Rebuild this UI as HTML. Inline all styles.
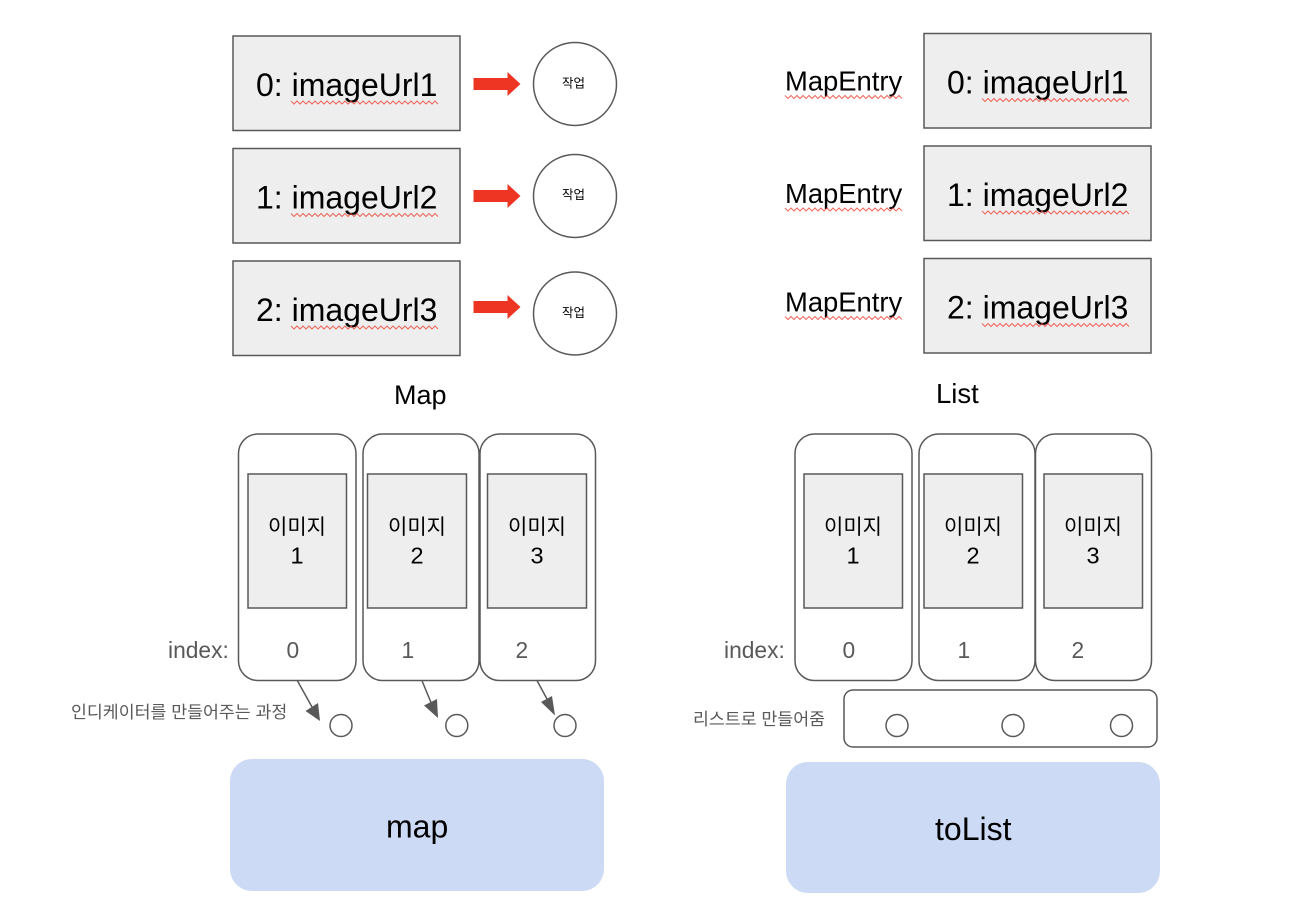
<!DOCTYPE html>
<html><head><meta charset="utf-8">
<style>
html,body{margin:0;padding:0;background:#fff}
svg{display:block}
text{font-family:"Liberation Sans","Noto Sans CJK KR",sans-serif;fill:#000}
.b{fill:#eee;stroke:#595959;stroke-width:1.5}
.c{fill:#fff;stroke:#595959;stroke-width:1.5}
.r{fill:none;stroke:#595959;stroke-width:1.5}
.t{font-size:32px}
.m{font-size:27.4px}
.k{font-size:21px;text-anchor:middle}
.n{font-size:23.5px;text-anchor:middle}
.g{font-size:22.8px;fill:#595959}
.s{font-size:17.3px;fill:#595959}
.w{font-size:12.5px;text-anchor:middle}
.q{fill:none;stroke:#ea4335;stroke-width:1;opacity:.8}
.a{fill:#ee3524}
.l{stroke:#595959;stroke-width:1.5;fill:none}
.h{fill:#595959}
.d{fill:#ccdaf5}
</style></head><body>
<svg width="1292" height="912" viewBox="0 0 1292 912" xmlns="http://www.w3.org/2000/svg">
<defs>
<path id="sq" class="q" d="M0 0l3 3 3-3 3 3 3-3 3 3 3-3 3 3 3-3 3 3 3-3 3 3 3-3 3 3 3-3 3 3 3-3 3 3 3-3 3 3 3-3 3 3 3-3 3 3 3-3 3 3 3-3 3 3 3-3 3 3 3-3 3 3 3-3 3 3 3-3 3 3 3-3 3 3 3-3 3 3 3-3 3 3 3-3 3 3 3-3 3 3 3-3 3 3 3-3 3 3"/>
<path id="sq2" class="q" d="M0 0l3 3 3-3 3 3 3-3 3 3 3-3 3 3 3-3 3 3 3-3 3 3 3-3 3 3 3-3 3 3 3-3 3 3 3-3 3 3 3-3 3 3 3-3 3 3 3-3 3 3 3-3 3 3 3-3 3 3 3-3 3 3 3-3 3 3 3-3 3 3 3-3 3 3 3-3 3 3"/>
<path id="ar" class="a" d="M0 -6H34V-12L47 0 34 12V6H0Z"/>
</defs>

<!-- top left -->
<rect class="b" x="233" y="36" width="227" height="94.500"/>
<rect class="b" x="233" y="148.500" width="227" height="94.500"/>
<rect class="b" x="233" y="261" width="227" height="94.500"/>
<text class="t" x="256" y="96">0: imageUrl1</text>
<text class="t" x="256" y="208.500">1: imageUrl2</text>
<text class="t" x="256" y="321">2: imageUrl3</text>
<use href="#sq" x="291" y="101"/>
<use href="#sq" x="291" y="213.500"/>
<use href="#sq" x="291" y="326"/>
<use href="#ar" x="473.500" y="84"/>
<use href="#ar" x="473.500" y="196"/>
<use href="#ar" x="473.500" y="307"/>
<circle class="c" cx="575" cy="84" r="41.500"/>
<circle class="c" cx="575" cy="196" r="41.500"/>
<circle class="c" cx="575" cy="313.500" r="41.500"/>
<text class="w" x="573.500" y="87.500">작업</text>
<text class="w" x="573.500" y="199">작업</text>
<text class="w" x="573.500" y="317">작업</text>

<!-- top right -->
<rect class="b" x="924" y="33.500" width="227" height="94.500"/>
<rect class="b" x="924" y="146" width="227" height="94.500"/>
<rect class="b" x="924" y="258.500" width="227" height="94.500"/>
<text class="t" x="947" y="93.500">0: imageUrl1</text>
<text class="t" x="947" y="206">1: imageUrl2</text>
<text class="t" x="947" y="318.500">2: imageUrl3</text>
<use href="#sq" x="982" y="98.500"/>
<use href="#sq" x="982" y="211"/>
<use href="#sq" x="982" y="323.500"/>
<text class="m" x="785" y="90.500">MapEntry</text>
<text class="m" x="785" y="203">MapEntry</text>
<text class="m" x="785" y="311.500">MapEntry</text>
<use href="#sq2" x="785" y="95.500"/>
<use href="#sq2" x="785" y="208"/>
<use href="#sq2" x="785" y="316.500"/>

<text x="394" y="404" style="font-size:27px">Map</text>
<text x="936" y="403" style="font-size:27.500px">List</text>

<!-- lower left -->
<rect class="r" x="238.500" y="434" width="117.500" height="246.500" rx="19.500"/>
<rect class="r" x="363" y="434" width="116" height="246.500" rx="19.500"/>
<rect class="r" x="480" y="434" width="115.500" height="246.500" rx="19.500"/>
<rect class="b" x="248" y="474" width="98.500" height="134"/>
<rect class="b" x="367.500" y="474" width="99" height="134"/>
<rect class="b" x="487.500" y="474" width="99" height="134"/>
<text class="k" x="297" y="534">이미지</text><text class="n" x="297" y="563.500">1</text>
<text class="k" x="417" y="534">이미지</text><text class="n" x="417" y="563.500">2</text>
<text class="k" x="537" y="534">이미지</text><text class="n" x="537" y="563.500">3</text>
<text class="g" x="168" y="658">index:</text>
<text class="g" x="286.500" y="658">0</text>
<text class="g" x="401.500" y="658">1</text>
<text class="g" x="515.500" y="658">2</text>
<text class="s" x="71" y="718">인디케이터를 만들어주는 과정</text>
<line class="l" x1="297" y1="680" x2="312" y2="707"/>
<path class="h" d="M320 721L305.500 711 318 703Z"/>
<line class="l" x1="421.700" y1="680" x2="431" y2="702.500"/>
<path class="h" d="M438 718L424 705.500 437 699Z"/>
<line class="l" x1="536.700" y1="680" x2="547" y2="699"/>
<path class="h" d="M555 715.500L541 702 552 696Z"/>
<circle class="c" cx="341" cy="725.500" r="11"/>
<circle class="c" cx="456.800" cy="725.500" r="11"/>
<circle class="c" cx="565" cy="725.500" r="11"/>
<rect class="d" x="230" y="759" width="374" height="132" rx="22"/>
<text class="t" x="386" y="837.500">map</text>

<!-- lower right -->
<rect class="r" x="795" y="434" width="117" height="246.500" rx="19.500"/>
<rect class="r" x="919" y="434" width="116" height="246.500" rx="19.500"/>
<rect class="r" x="1035.500" y="434" width="116" height="246.500" rx="19.500"/>
<rect class="b" x="804" y="474" width="98.500" height="134"/>
<rect class="b" x="924" y="474" width="98.500" height="134"/>
<rect class="b" x="1044" y="474" width="98.500" height="134"/>
<text class="k" x="853" y="534">이미지</text><text class="n" x="853" y="563.500">1</text>
<text class="k" x="973" y="534">이미지</text><text class="n" x="973" y="563.500">2</text>
<text class="k" x="1093" y="534">이미지</text><text class="n" x="1093" y="563.500">3</text>
<text class="g" x="724" y="658">index:</text>
<text class="g" x="842.500" y="658">0</text>
<text class="g" x="957.500" y="658">1</text>
<text class="g" x="1071.500" y="658">2</text>
<text class="s" x="693" y="725">리스트로 만들어줌</text>
<rect class="r" x="844" y="690" width="313" height="57" rx="9"/>
<circle class="c" cx="897" cy="725.500" r="11"/>
<circle class="c" cx="1013" cy="725.500" r="11"/>
<circle class="c" cx="1121.500" cy="725.500" r="11"/>
<rect class="d" x="786" y="762" width="374" height="131" rx="22"/>
<text class="t" x="935" y="840">toList</text>
</svg>
</body></html>
